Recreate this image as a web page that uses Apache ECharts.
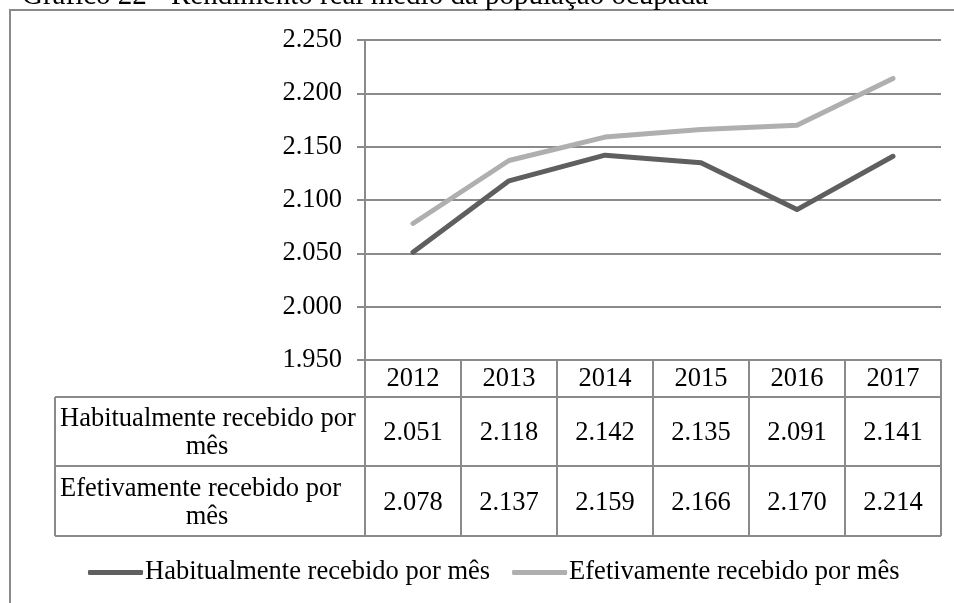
<!DOCTYPE html>
<html>
<head>
<meta charset="utf-8">
<script src="https://cdn.jsdelivr.net/npm/echarts@6/dist/echarts.min.js"></script>
<style>
html,body{margin:0;padding:0;background:#fff;}
#chart{width:954px;height:603px;}
</style>
</head>
<body>
<div id="chart"></div>
<script>
const titleText = 'Gráfico 22 - Rendimento real médio da população ocupada';
const years = ['2012', '2013', '2014', '2015', '2016', '2017'];
const seriesNames = ['Habitualmente recebido por mês', 'Efetivamente recebido por mês'];
const rowLabelLines = [['Habitualmente recebido por', 'mês'], ['Efetivamente recebido por', 'mês']];
const habitual = [2051, 2118, 2142, 2135, 2091, 2141];
const efetivo = [2078, 2137, 2159, 2166, 2170, 2214];
const yMin = 1950, yMax = 2250, yStep = 50;

const FONT = '"Liberation Serif", "Times New Roman", serif';
const FS = 26.5;
const GRID = '#8a8a8a';
const fmt = v => (v / 1000).toFixed(3);

const chart = echarts.init(document.getElementById('chart'), null, {renderer: 'canvas'});
const option = {
  animation: false,
  backgroundColor: '#ffffff',
  textStyle: {fontFamily: FONT, color: '#000'},
  grid: {left: 365, right: 13, top: 40, bottom: 243},
  legend: {
    left: 83, top: 554,
    itemWidth: 55, itemHeight: 5, itemGap: 22,
    icon: 'roundRect',
    textStyle: {fontFamily: FONT, fontSize: FS, color: '#000', padding: [0, 0, 0, -3]},
    data: seriesNames
  },
  xAxis: {
    type: 'category', data: years, boundaryGap: true,
    axisLine: {show: true, lineStyle: {color: GRID, width: 2}},
    axisTick: {show: false},
    axisLabel: {show: true, margin: 19, verticalAlign: 'middle', fontFamily: FONT, fontSize: FS, color: '#000'},
    splitLine: {show: false}
  },
  yAxis: {
    type: 'value', min: yMin, max: yMax, interval: yStep,
    axisLine: {show: true, lineStyle: {color: GRID, width: 2}},
    axisTick: {show: true, length: 8, lineStyle: {color: GRID, width: 2}},
    axisLabel: {margin: 23, fontFamily: FONT, fontSize: FS, color: '#000', formatter: fmt, padding: [3, 0, 0, 0]},
    splitLine: {show: true, lineStyle: {color: GRID, width: 2}}
  },
  series: [
    {name: seriesNames[0], type: 'line', data: habitual, symbol: 'none',
     lineStyle: {color: '#5f5f5f', width: 5, cap: 'round', join: 'round'}, itemStyle: {color: '#5f5f5f'}},
    {name: seriesNames[1], type: 'line', data: efetivo, symbol: 'none',
     lineStyle: {color: '#afafaf', width: 5, cap: 'round', join: 'round'}, itemStyle: {color: '#afafaf'}}
  ]
};
chart.setOption(option);

// Build data table under the axis using the axis scale positions
const centers = years.map((y, i) => chart.convertToPixel({xAxisIndex: 0}, i));
const band = centers.length > 1 ? centers[1] - centers[0] : 96;
const bounds = centers.map(c => c - band / 2).concat([centers[centers.length - 1] + band / 2]);
const axisY = chart.convertToPixel({yAxisIndex: 0}, yMin);
const rowTops = [axisY, axisY + 37, axisY + 106, axisY + 176];
const labelLeft = 55;
const tableRight = bounds[bounds.length - 1];
const graphics = [];
const ls = {stroke: GRID, lineWidth: 2};
graphics.push({type: 'rect', silent: true, shape: {x: 10, y: 10, width: 1000, height: 1000}, style: {fill: 'none', stroke: GRID, lineWidth: 2}});
graphics.push({type: 'text', silent: true, x: 22, y: -4, style: {text: titleText, font: '29px ' + FONT, fill: '#000', verticalAlign: 'middle', align: 'left'}});
bounds.forEach(b => graphics.push({type: 'line', silent: true, shape: {x1: b, y1: rowTops[0], x2: b, y2: rowTops[3]}, style: ls}));
graphics.push({type: 'line', silent: true, shape: {x1: labelLeft, y1: rowTops[1], x2: labelLeft, y2: rowTops[3]}, style: ls});
[1, 2, 3].forEach(r => graphics.push({type: 'line', silent: true, shape: {x1: labelLeft, y1: rowTops[r], x2: tableRight, y2: rowTops[r]}, style: ls}));
const rows = [habitual, efetivo];
const txt = (x, y, text, align) => ({type: 'text', silent: true, x: x, y: y,
  style: {text: text, font: FS + 'px ' + FONT, fill: '#000', align: align, verticalAlign: 'middle'}});
rows.forEach((vals, r) => {
  const cy = (rowTops[r + 1] + rowTops[r + 2]) / 2 + 2;
  graphics.push(txt(labelLeft + 5, cy - 14, rowLabelLines[r][0], 'left'));
  graphics.push(txt((labelLeft + bounds[0]) / 2 - 3, cy + 14, rowLabelLines[r][1], 'center'));
  vals.forEach((v, i) => graphics.push(txt(centers[i], cy, fmt(v), 'center')));
});
chart.setOption({graphic: {elements: graphics}});
</script>
</body>
</html>
